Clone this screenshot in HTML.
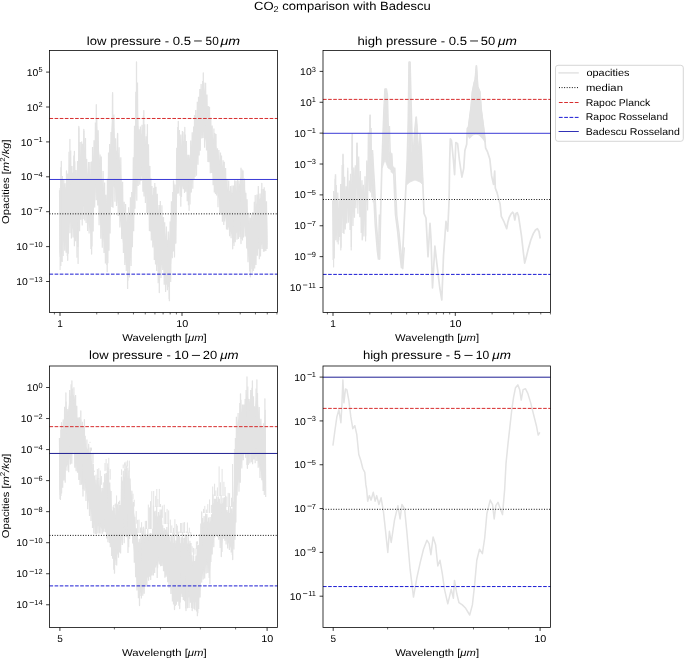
<!DOCTYPE html>
<html><head><meta charset="utf-8"><title>CO2 comparison with Badescu</title>
<style>
html,body{margin:0;padding:0;background:#fff;width:685px;height:659px;overflow:hidden;}
svg{display:block;}
text{font-family:"Liberation Sans",sans-serif;text-rendering:geometricPrecision;}
</style></head><body>
<svg width="685" height="659" viewBox="0 0 685 659">
<defs><filter id="nolcd" filterUnits="userSpaceOnUse" x="0" y="0" width="685" height="659"><feOffset dx="0" dy="0"/></filter></defs>
<rect width="685" height="659" fill="#fff"/>
<g id="data">
<polygon points="59.5,202.2 60.0,190.5 60.5,182.7 61.0,180.9 61.5,181.0 62.0,184.3 62.5,187.4 63.0,190.5 63.5,193.6 64.0,192.0 64.5,190.4 65.0,188.9 65.5,187.4 66.0,187.1 66.5,186.8 67.0,189.8 67.5,192.8 68.0,183.4 68.5,173.6 69.0,165.7 69.5,160.8 70.0,158.0 70.5,162.2 71.0,166.3 71.5,168.7 72.0,171.2 72.5,173.6 73.0,172.4 73.5,171.1 74.0,169.8 74.5,169.3 75.0,171.6 75.5,174.0 76.0,176.7 76.5,174.4 77.0,172.1 77.5,169.9 78.0,162.9 78.5,154.5 79.0,150.4 79.5,153.5 80.0,156.6 80.5,160.4 81.0,158.8 81.5,157.2 82.0,155.5 82.5,152.9 83.0,150.4 83.5,147.8 84.0,146.9 84.5,148.7 85.0,150.4 85.5,152.7 86.0,156.5 86.5,162.0 87.0,167.5 87.5,173.0 88.0,173.9 88.5,174.8 89.0,175.7 89.5,176.6 90.0,176.4 90.5,174.8 91.0,173.1 91.5,171.2 92.0,167.7 92.5,163.9 93.0,160.3 93.5,156.8 94.0,153.4 94.5,150.1 95.0,141.0 95.5,131.9 96.0,125.7 96.5,123.0 97.0,126.5 97.5,131.2 98.0,137.3 98.5,143.4 99.0,149.4 99.5,155.2 100.0,161.1 100.5,166.2 101.0,169.8 101.5,173.4 102.0,177.1 102.5,180.7 103.0,184.1 103.5,187.4 104.0,190.7 104.5,195.1 105.0,201.3 105.5,207.5 106.0,204.1 106.5,200.8 107.0,193.6 107.5,184.5 108.0,174.9 108.5,168.1 109.0,163.3 109.5,158.3 110.0,153.1 110.5,148.0 111.0,138.5 111.5,129.1 112.0,122.1 112.5,115.2 113.0,116.1 113.5,118.9 114.0,126.6 114.5,134.2 115.0,140.8 115.5,145.7 116.0,151.4 116.5,150.5 117.0,149.7 117.5,148.8 118.0,150.8 118.5,153.4 119.0,156.0 119.5,158.5 120.0,160.9 120.5,166.0 121.0,172.8 121.5,179.6 122.0,185.8 122.5,192.0 123.0,199.2 123.5,206.6 124.0,209.0 124.5,211.4 125.0,213.8 125.5,216.2 126.0,218.6 126.5,221.0 127.0,223.4 127.5,222.6 128.0,221.0 128.5,219.1 129.0,217.3 129.5,215.4 130.0,213.5 130.5,209.8 131.0,206.0 131.5,201.7 132.0,197.1 132.5,192.5 133.0,178.8 133.5,165.4 134.0,154.6 134.5,143.4 135.0,132.0 135.5,120.7 136.0,104.2 136.5,87.7 137.0,94.5 137.5,101.3 138.0,113.0 138.5,124.9 139.0,132.6 139.5,140.2 140.0,138.3 140.5,136.4 141.0,135.2 141.5,133.9 142.0,132.2 142.5,130.5 143.0,128.7 143.5,127.0 144.0,127.9 144.5,132.6 145.0,137.3 145.5,142.0 146.0,141.7 146.5,141.4 147.0,141.2 147.5,142.6 148.0,149.8 148.5,156.9 149.0,164.1 149.5,170.9 150.0,177.7 150.5,184.6 151.0,189.6 151.5,191.8 152.0,194.0 152.5,194.7 153.0,195.4 153.5,196.1 154.0,196.9 154.5,197.6 155.0,198.3 155.5,199.8 156.0,201.2 156.5,202.7 157.0,204.2 157.5,205.6 158.0,207.1 158.5,209.7 159.0,212.2 159.5,214.4 160.0,215.9 160.5,216.1 161.0,216.3 161.5,216.5 162.0,216.6 162.5,217.0 163.0,218.5 163.5,221.9 164.0,225.4 164.5,228.8 165.0,232.3 165.5,235.1 166.0,238.0 166.5,238.6 167.0,239.3 167.5,239.9 168.0,240.5 168.5,241.2 169.0,241.8 169.5,236.3 170.0,229.8 170.5,223.2 171.0,216.6 171.5,210.0 172.0,203.5 172.5,199.8 173.0,197.3 173.5,194.9 174.0,194.9 174.5,194.9 175.0,194.9 175.5,194.9 176.0,187.0 176.5,156.2 177.0,149.0 177.5,141.9 178.0,136.7 178.5,135.3 179.0,137.3 179.5,139.3 180.0,141.4 180.5,144.3 181.0,146.2 181.5,145.0 182.0,143.8 182.5,142.6 183.0,141.8 183.5,141.0 184.0,140.4 184.5,140.1 185.0,141.3 185.5,144.5 186.0,147.8 186.5,151.1 187.0,155.0 187.5,158.8 188.0,160.8 188.5,159.9 189.0,159.0 189.5,157.4 190.0,155.2 190.5,152.2 191.0,149.3 191.5,146.3 192.0,143.0 192.5,139.3 193.0,135.6 193.5,132.0 194.0,129.5 194.5,127.0 195.0,124.5 195.5,122.0 196.0,119.6 196.5,117.5 197.0,115.3 197.5,112.9 198.0,109.7 198.5,106.0 199.0,102.3 199.5,99.7 200.0,97.4 200.5,95.0 201.0,92.7 201.5,90.5 202.0,88.3 202.5,86.9 203.0,86.0 203.5,86.3 204.0,87.9 204.5,89.7 205.0,91.7 205.5,94.3 206.0,98.0 206.5,101.7 207.0,105.2 207.5,108.2 208.0,110.3 208.5,112.3 209.0,114.4 209.5,116.5 210.0,119.2 210.5,122.4 211.0,125.7 211.5,128.9 212.0,132.1 212.5,135.5 213.0,137.3 213.5,138.5 214.0,139.6 214.5,140.8 215.0,142.0 215.5,143.1 216.0,145.4 216.5,147.9 217.0,150.5 217.5,153.0 218.0,155.5 218.5,158.0 219.0,159.2 219.5,160.1 220.0,160.9 220.5,161.7 221.0,162.4 221.5,163.1 222.0,163.9 222.5,165.5 223.0,167.1 223.5,168.7 224.0,170.3 224.5,171.9 225.0,173.5 225.5,175.0 226.0,178.3 226.5,181.9 227.0,185.6 227.5,189.2 228.0,189.6 228.5,190.0 229.0,190.4 229.5,190.8 230.0,191.3 230.5,191.7 231.0,192.1 231.5,192.5 232.0,192.9 232.5,193.0 233.0,192.9 233.5,192.8 234.0,192.6 234.5,192.4 235.0,192.2 235.5,192.0 236.0,191.8 236.5,190.6 237.0,189.4 237.5,188.1 238.0,186.9 238.5,185.7 239.0,184.5 239.5,183.8 240.0,183.1 240.5,182.5 241.0,181.8 241.5,181.6 242.0,181.4 242.5,181.2 243.0,181.1 243.5,182.9 244.0,184.7 244.5,187.0 245.0,189.6 245.5,193.5 246.0,197.4 246.5,201.3 247.0,205.7 247.5,210.0 248.0,214.3 248.5,218.6 249.0,222.9 249.5,226.3 250.0,225.8 250.5,225.1 251.0,224.0 251.5,222.8 252.0,221.6 252.5,220.4 253.0,219.2 253.5,217.9 254.0,214.9 254.5,211.9 255.0,208.9 255.5,205.9 256.0,204.5 256.5,203.4 257.0,202.2 257.5,201.1 258.0,200.0 258.5,199.6 259.0,199.1 259.5,198.7 260.0,198.3 260.5,197.9 261.0,197.4 261.5,197.0 262.0,196.9 262.5,197.3 263.0,197.8 263.5,198.2 264.0,198.6 264.5,199.0 265.0,199.5 265.5,202.4 266.0,205.3 266.5,208.2 267.0,211.1 267.5,237.0 267.5,248.8 267.0,243.4 266.5,243.0 266.0,242.7 265.5,242.4 265.0,242.0 264.5,242.4 264.0,242.8 263.5,243.2 263.0,243.6 262.5,244.0 262.0,244.4 261.5,245.0 261.0,245.7 260.5,246.3 260.0,247.0 259.5,247.7 259.0,248.4 258.5,249.1 258.0,249.8 257.5,250.8 257.0,251.7 256.5,252.6 256.0,253.5 255.5,254.5 255.0,255.9 254.5,257.4 254.0,258.8 253.5,260.2 253.0,261.2 252.5,262.2 252.0,263.0 251.5,263.8 251.0,264.6 250.5,265.4 250.0,263.7 249.5,261.5 249.0,258.4 248.5,255.1 248.0,251.8 247.5,248.5 247.0,245.0 246.5,241.4 246.0,238.0 245.5,234.5 245.0,231.0 244.5,227.8 244.0,226.1 243.5,226.4 243.0,226.8 242.5,227.6 242.0,228.4 241.5,229.2 241.0,230.0 240.5,229.8 240.0,229.5 239.5,229.2 239.0,229.0 238.5,229.8 238.0,230.5 237.5,231.3 237.0,232.1 236.5,232.9 236.0,233.7 235.5,234.1 235.0,234.6 234.5,235.0 234.0,235.4 233.5,235.9 233.0,236.3 232.5,236.2 232.0,235.2 231.5,234.1 231.0,233.0 230.5,231.9 230.0,230.9 229.5,229.8 229.0,228.7 228.5,227.7 228.0,226.6 227.5,225.5 227.0,223.7 226.5,221.9 226.0,220.1 225.5,218.3 225.0,216.9 224.5,215.6 224.0,214.2 223.5,212.8 223.0,211.4 222.5,210.0 222.0,208.6 221.5,207.4 221.0,206.2 220.5,205.0 220.0,203.4 219.5,201.7 219.0,200.0 218.5,198.1 218.0,196.0 217.5,193.9 217.0,191.8 216.5,189.7 216.0,187.6 215.5,185.5 215.0,183.7 214.5,181.9 214.0,180.1 213.5,178.3 213.0,176.5 212.5,173.6 212.0,170.3 211.5,167.8 211.0,165.2 210.5,162.8 210.0,160.4 209.5,158.2 209.0,156.1 208.5,153.9 208.0,151.8 207.5,149.7 207.0,147.4 206.5,145.0 206.0,142.5 205.5,140.1 205.0,137.9 204.5,135.8 204.0,133.8 203.5,131.9 203.0,130.2 202.5,130.1 202.0,132.1 201.5,134.2 201.0,136.4 200.5,138.5 200.0,140.7 199.5,142.9 199.0,146.2 198.5,149.8 198.0,153.4 197.5,156.9 197.0,160.2 196.5,163.0 196.0,165.2 195.5,167.4 195.0,169.3 194.5,171.1 194.0,172.8 193.5,174.6 193.0,177.0 192.5,180.0 192.0,183.0 191.5,185.8 191.0,188.7 190.5,191.5 190.0,194.3 189.5,197.0 189.0,198.8 188.5,197.7 188.0,196.6 187.5,194.9 187.0,192.7 186.5,190.6 186.0,188.5 185.5,186.8 185.0,185.1 184.5,183.9 184.0,183.0 183.5,184.1 183.0,185.7 182.5,187.3 182.0,189.0 181.5,190.7 181.0,192.4 180.5,191.4 180.0,188.8 179.5,186.4 179.0,184.0 178.5,181.6 178.0,180.0 177.5,185.0 177.0,199.4 176.5,213.8 176.0,232.7 175.5,244.1 175.0,244.1 174.5,244.1 174.0,244.1 173.5,244.1 173.0,244.7 172.5,245.2 172.0,251.4 171.5,258.2 171.0,265.0 170.5,271.9 170.0,278.7 169.5,285.5 169.0,287.4 168.5,286.9 168.0,286.3 167.5,285.8 167.0,285.2 166.5,284.7 166.0,284.1 165.5,283.1 165.0,282.0 164.5,278.1 164.0,274.2 163.5,270.2 163.0,266.3 162.5,262.8 162.0,263.9 161.5,266.1 161.0,268.2 160.5,270.4 160.0,272.6 159.5,274.5 159.0,273.6 158.5,270.8 158.0,268.0 157.5,265.4 157.0,262.9 156.5,260.4 156.0,257.8 155.5,255.3 155.0,252.7 154.5,250.0 154.0,247.3 153.5,244.7 153.0,242.0 152.5,239.3 152.0,236.7 151.5,233.7 151.0,230.7 150.5,226.9 150.0,222.6 149.5,218.3 149.0,214.0 148.5,209.7 148.0,205.3 147.5,201.0 147.0,197.9 146.5,195.6 146.0,193.6 145.5,191.6 145.0,188.5 144.5,185.4 144.0,182.3 143.5,180.1 143.0,179.2 142.5,178.2 142.0,177.3 141.5,176.4 141.0,175.4 140.5,174.3 140.0,176.3 139.5,178.3 139.0,178.2 138.5,178.1 138.0,177.0 137.5,177.2 137.0,178.4 136.5,179.7 136.0,187.0 135.5,194.5 135.0,200.9 134.5,207.3 134.0,213.7 133.5,220.0 133.0,228.0 132.5,236.8 132.0,243.6 131.5,250.4 131.0,255.7 130.5,258.7 130.0,261.7 129.5,264.2 129.0,266.8 128.5,269.3 128.0,271.9 127.5,273.4 127.0,270.8 126.5,267.6 126.0,264.3 125.5,261.0 125.0,257.8 124.5,254.5 124.0,251.2 123.5,248.0 123.0,243.7 122.5,239.5 122.0,235.5 121.5,231.5 121.0,227.3 120.5,223.2 120.0,219.4 119.5,216.2 119.0,213.0 118.5,209.5 118.0,205.5 117.5,201.7 117.0,198.5 116.5,195.3 116.0,192.1 115.5,188.3 115.0,188.1 114.5,187.6 114.0,186.9 113.5,186.1 113.0,187.6 112.5,189.6 112.0,193.3 111.5,197.0 111.0,204.1 110.5,212.0 110.0,218.9 109.5,225.8 109.0,231.9 108.5,237.4 108.0,243.3 107.5,249.9 107.0,253.9 106.5,253.8 106.0,252.8 105.5,251.8 105.0,248.8 104.5,245.7 104.0,243.0 103.5,240.3 103.0,237.6 102.5,234.8 102.0,232.1 101.5,229.3 101.0,226.5 100.5,223.7 100.0,220.6 99.5,214.3 99.0,207.9 98.5,201.6 98.0,195.1 97.5,188.7 97.0,182.6 96.5,182.2 96.0,186.7 95.5,192.0 95.0,197.9 94.5,203.8 94.0,208.5 93.5,213.6 93.0,219.4 92.5,225.2 92.0,231.0 91.5,235.4 91.0,233.8 90.5,232.1 90.0,230.4 89.5,228.4 89.0,226.1 88.5,223.8 88.0,221.6 87.5,219.1 87.0,215.6 86.5,212.1 86.0,208.6 85.5,205.4 85.0,205.1 84.5,205.4 84.0,205.7 83.5,206.6 83.0,207.9 82.5,209.2 82.0,210.8 81.5,212.2 81.0,213.6 80.5,215.0 80.0,217.2 79.5,222.5 79.0,227.8 78.5,234.7 78.0,240.9 77.5,240.5 77.0,238.9 76.5,237.4 76.0,235.9 75.5,233.3 75.0,232.2 74.5,231.0 74.0,230.5 73.5,230.1 73.0,229.7 72.5,229.0 72.0,227.5 71.5,225.9 71.0,224.3 70.5,222.3 70.0,220.4 69.5,223.1 69.0,228.5 68.5,234.5 68.0,240.9 67.5,245.3 67.0,244.1 66.5,243.0 66.0,242.5 65.5,242.1 65.0,241.9 64.5,241.7 64.0,241.6 63.5,241.8 63.0,242.6 62.5,243.5 62.0,244.3 61.5,245.1 61.0,246.5 60.5,248.3 60.0,251.4 59.5,255.4" fill="#e3e3e3"/>
<polyline points="59.5,190.3 60.2,257.0 60.9,167.2 61.7,261.5 62.4,175.9 63.2,256.1 63.8,179.0 64.7,250.8 65.1,183.2 66.1,252.7 66.9,174.2 67.3,255.9 67.7,173.5 68.3,253.7 69.0,151.7 69.9,233.2 70.7,150.6 71.4,238.5 72.0,166.0 73.0,237.6 73.8,155.4 74.4,246.3 74.8,161.3 75.5,241.3 76.1,169.9 77.0,257.7 77.5,161.0 78.2,247.1 78.9,127.4 79.6,231.3 80.2,142.1 80.8,219.8 81.7,141.6 82.2,225.4 82.7,143.7 83.2,219.2 83.9,130.7 84.7,220.5 85.5,138.0 86.1,223.0 86.7,159.1 87.6,231.0 88.5,161.9 89.1,233.4 89.9,162.1 90.9,249.1 91.4,161.6 92.0,246.4 92.5,147.0 93.2,231.5 94.0,140.2 94.7,207.5 95.4,122.4 96.3,200.2 96.8,117.9 97.7,205.6 98.2,130.2 99.1,225.2 100.1,154.5 100.8,238.8 101.3,156.4 102.3,247.8 103.1,171.0 104.0,253.0 104.6,182.4 105.4,263.6 105.9,194.8 106.8,264.9 107.4,178.8 107.9,263.3 108.5,152.4 109.0,250.7 109.6,143.9 110.1,233.5 111.0,131.9 111.8,206.9 112.5,94.4 113.0,207.8 113.9,114.6 114.9,201.7 115.6,138.2 116.5,206.1 117.5,134.3 118.2,215.9 119.1,147.2 119.9,227.6 120.8,157.3 121.7,238.9 122.6,181.8 123.4,252.9 124.2,201.8 124.8,265.1 125.6,204.0 126.3,270.9 127.2,214.9 127.9,280.8 128.6,207.3 129.5,277.6 130.4,197.2 131.1,265.9 131.7,191.9 132.4,247.2 133.3,157.2 133.7,231.3 134.5,125.8 135.0,208.7 135.8,91.7 136.8,200.7 137.5,82.6 138.2,186.1 139.1,129.2 139.8,184.7 140.4,126.6 141.1,181.1 142.0,124.8 142.9,191.7 143.4,115.4 144.0,196.6 144.7,124.2 145.4,203.1 146.2,136.3 146.9,213.0 147.4,133.7 147.8,213.2 148.5,144.3 149.4,230.9 149.9,166.1 150.3,231.4 150.9,177.9 151.3,240.5 152.0,186.0 152.8,247.5 153.7,187.8 154.3,260.1 154.8,182.9 155.5,264.5 156.0,186.8 156.6,270.9 157.3,193.8 158.2,283.2 159.0,205.1 159.5,281.2 160.3,201.0 161.0,278.0 161.9,205.3 162.7,269.9 163.5,216.9 164.2,284.8 164.7,222.3 165.6,292.1 166.4,226.4 167.4,290.2 168.3,231.5 169.2,298.9 170.1,221.5 170.7,281.9 171.4,201.3 172.3,258.3 172.7,192.1 173.2,251.6 173.7,182.8 174.5,257.5 175.0,184.4 175.9,243.5 176.7,147.8 177.4,193.8 177.8,127.1 178.5,193.5 179.4,130.1 180.1,195.7 180.8,134.5 181.5,197.1 182.4,131.1 183.3,189.3 184.0,131.8 184.5,193.0 185.2,134.4 185.7,191.7 186.4,140.9 187.2,201.2 187.9,154.7 188.4,205.2 189.0,154.7 190.0,204.4 190.7,140.6 191.3,192.5 192.2,132.3 192.8,188.8 193.6,126.5 194.1,179.1 194.5,115.1 195.1,176.9 195.7,110.0 196.5,175.8 197.3,101.8 198.0,164.8 198.5,96.8 199.2,155.4 199.8,89.1 200.3,150.7 201.1,84.1 201.8,138.6 202.6,80.9 203.1,137.9 204.0,82.5 204.6,147.8 205.6,82.8 206.5,150.5 207.0,94.5 207.9,161.9 208.3,105.9 209.0,162.2 209.5,106.7 210.3,173.2 210.8,117.4 211.7,172.9 212.2,125.5 213.1,185.2 213.9,128.6 214.3,192.6 214.8,133.0 215.5,194.0 216.0,134.1 216.5,195.5 217.5,148.3 218.0,207.2 218.9,150.1 219.8,213.0 220.5,152.5 221.1,214.9 221.5,155.6 222.4,221.7 223.1,160.2 223.8,225.1 224.3,161.8 224.7,221.5 225.6,167.9 226.5,229.4 227.1,179.1 227.8,229.8 228.7,180.5 229.6,236.3 230.5,185.9 231.1,238.3 232.0,185.6 232.9,243.2 233.5,185.6 234.0,245.9 234.7,180.3 235.3,242.2 236.1,180.7 237.0,239.8 237.6,180.0 238.4,239.1 239.0,180.4 239.8,237.3 240.6,177.6 241.1,239.1 241.9,169.3 242.5,240.5 243.1,170.5 243.5,237.6 244.5,178.5 245.2,236.4 245.9,192.8 246.7,248.5 247.1,199.3 248.0,262.2 248.9,212.7 249.6,271.6 250.3,217.8 250.8,269.3 251.4,214.4 252.2,272.7 252.8,212.1 253.5,270.9 254.3,201.8 254.7,268.6 255.2,195.0 256.0,265.0 256.9,194.5 257.4,255.8 258.3,185.9 259.3,259.2 260.0,193.4 260.5,256.5 261.5,189.1 262.1,249.0 263.0,188.9 263.5,251.7 264.2,187.2 264.6,251.4 265.1,190.7 265.9,251.1 266.5,201.2 267.1,248.9" fill="none" stroke="#e3e3e3" stroke-width="1.2" stroke-linejoin="bevel"/>
<path d="M61.3 161.3L61.3 207.4M66.5 171.0L66.5 210.5M69.9 139.5L69.9 183.7M74.4 151.4L74.4 195.0M78.8 126.5L78.8 183.3M83.8 129.5L83.8 171.4M96.3 104.7L96.3 148.0M112.6 92.7L112.6 145.5M117.6 133.5L117.6 171.3M136.5 61.9L136.5 126.5M143.8 110.6L143.8 149.3M147.4 124.6L147.4 166.0M173.5 181.0L173.5 215.7M178.3 121.5L178.3 154.0M184.8 127.5L184.8 158.8M203.3 72.8L203.3 104.8M241.0 168.2L241.0 202.1M261.8 183.3L261.8 216.9M67.7 260.3L67.7 221.3M78.1 263.4L78.1 207.5M91.6 254.0L91.6 208.3M107.2 271.7L107.2 227.0M127.6 288.4L127.6 252.2M159.3 292.5L159.3 249.3M169.4 300.7L169.4 266.1M180.8 206.2L180.8 173.2M189.1 210.3L189.1 182.0M232.7 248.8L232.7 218.2M241.0 243.6L241.0 209.7M250.4 276.8L250.4 248.6" stroke="#e3e3e3" stroke-width="1.3" fill="none" stroke-linecap="round"/>
<path d="M60.1 188V270M60.9 180V266M62.2 178V262" stroke="#e3e3e3" stroke-width="1.1" fill="none"/>
<polyline points="332.6,200.2 333.1,260.1 333.6,190.9 334.3,258.4 335.1,178.7 335.8,240.3 336.3,184.9 337.2,242.3 337.8,192.6 338.8,240.6 339.5,200.3 340.0,237.1 340.6,183.9 341.1,247.8 342.1,165.0 342.9,233.1 343.5,164.1 344.0,233.9 344.6,176.7 345.3,229.4 346.1,186.2 346.7,223.4 347.6,170.5 348.4,222.8 349.4,180.6 350.0,230.0 350.5,173.8 351.4,247.1 352.2,136.6 353.0,226.0 353.8,167.6 354.5,217.8 355.3,165.3 356.0,208.3 357.0,145.7 357.9,213.7 358.7,156.5 359.8,217.3 360.4,170.9 361.2,233.1 362.0,180.3 362.5,239.6 363.4,184.7 364.0,236.6 365.0,176.3 365.7,236.2 366.7,160.5 367.6,210.5 368.3,132.6 369.3,190.9 369.9,117.2 370.4,192.4 371.2,128.1 371.8,197.4 372.5,153.5 373.3,202.5 374.2,189.1" fill="none" stroke="#e3e3e3" stroke-width="1.2" stroke-linejoin="bevel"/>
<path d="M335.5 176.0L335.5 204.8M343.0 155.0L343.0 191.9M347.8 168.0L347.8 194.1M352.3 134.0L352.3 181.5M357.0 143.0L357.0 174.3M370.1 115.0L370.1 150.7M333.6 267.0L333.6 231.2M338.2 244.0L338.2 220.0M340.8 250.0L340.8 218.9M351.2 250.0L351.2 208.0M362.2 240.0L362.2 213.4M365.6 241.0L365.6 208.4" stroke="#e3e3e3" stroke-width="1.2" fill="none" stroke-linecap="round"/>
<polyline points="389.4,126.0 390.6,166.0 391.8,153.7 392.8,173.0 394.8,168.3 396.8,215.5 399.0,232.5 401.1,253.8 402.8,268.7 404.3,247.4" fill="none" stroke="#e3e3e3" stroke-width="1.5" stroke-linejoin="round"/>
<polyline points="371.2,150.0 372.3,170.0 373.1,182.6 375.2,225.0 377.3,250.6 378.4,259.1 379.4,214.5" fill="none" stroke="#e3e3e3" stroke-width="1.5" stroke-linejoin="round"/>
<polyline points="372.4,150.0 373.5,170.0 374.3,182.6 376.4,225.0 378.5,250.6 379.6,259.1 380.6,214.5 381.7,171.9 382.8,140.0 384.0,110.0 385.0,89.0 386.3,89.0 387.3,95.0 388.1,125.0 389.3,165.0 390.5,152.7 391.5,172.0 393.5,167.3 395.5,214.5 397.7,231.5 399.8,252.8 401.5,267.7 403.0,246.4 405.1,203.8 407.2,161.3 408.3,120.0 409.1,62.0 410.0,62.0 411.0,100.0 412.3,150.0 413.1,161.4 414.5,133.6 416.2,117.0 417.2,130.0 418.5,165.0 420.1,134.0 421.3,150.0 422.5,175.0 424.0,213.5 426.0,218.0 428.0,256.8 430.0,223.3 431.0,239.0 432.5,288.0 434.9,246.0 436.8,263.0 437.4,268.0 439.8,288.0 441.8,300.0 443.5,255.7 446.0,221.3 447.7,231.1 449.1,200.0 449.7,160.0 450.3,138.8 451.5,140.7 453.4,160.0 454.6,174.7 455.8,142.5 457.6,143.7 459.4,160.0 461.9,177.1 463.7,168.6 464.9,150.4 466.7,144.3 467.3,128.5 468.5,127.1 471.2,106.0 472.4,92.0 474.1,83.3 475.2,79.8 476.4,65.8 477.7,86.8 479.9,92.0 481.2,109.6 482.6,120.0 484.3,133.4 485.6,148.0 487.4,151.6 489.8,158.9 491.6,175.9 493.5,184.4 494.7,171.0 495.3,188.0 497.1,192.9 498.9,200.0 500.1,204.1 501.3,216.4 503.8,221.3 506.7,228.7 507.8,222.5 509.2,217.5 511.1,213.9 512.6,212.2 513.6,213.5 514.8,220.0 516.0,213.5 517.3,212.7 518.5,216.0 519.7,223.8 521.5,236.0 523.3,252.0 524.7,263.1 526.3,257.0 528.4,248.4 530.8,240.0 533.3,233.6 535.5,230.0 537.4,228.7 539.0,231.5 540.2,238.5" fill="none" stroke="#e3e3e3" stroke-width="1.7" stroke-linejoin="round"/>
<polygon points="467.3,134.0 468.5,127.1 471.2,106.0 472.4,92.0 474.1,83.3 475.2,79.8 476.4,65.8 477.7,86.8 479.9,92.0 481.2,109.6 482.6,120.0 484.3,133.4 485.2,142.0 482.5,138.0 479.5,135.0 476.0,134.0 472.5,135.0 469.5,138.0" fill="#e3e3e3" stroke="#e3e3e3" stroke-width="1.2" stroke-linejoin="round"/>
<polygon points="382.2,168.0 383.2,140.0 384.2,110.0 385.0,89.0 386.3,89.0 387.0,100.0 387.6,125.0 388.6,160.0 389.6,165.0 390.5,152.7 391.3,170.0 388.0,168.0 385.0,160.0" fill="#e3e3e3" stroke="#e3e3e3" stroke-width="0.8" stroke-linejoin="round"/>
<polygon points="406.5,185.0 407.4,161.0 408.6,140.0 409.1,62.0 410.0,62.0 410.6,110.0 411.5,150.0 413.0,158.0 414.8,135.0 416.2,117.0 417.4,135.0 418.6,158.0 419.4,145.0 420.1,134.0 421.0,150.0 422.3,172.0 423.0,185.0 420.0,182.0 415.0,180.0 410.0,182.0" fill="#e3e3e3" stroke="#e3e3e3" stroke-width="0.8" stroke-linejoin="round"/>
<line x1="335.5" x2="335.5" y1="174.2" y2="200" stroke="#e3e3e3" stroke-width="1.5"/>
<line x1="343" x2="343" y1="153.7" y2="190" stroke="#e3e3e3" stroke-width="1.5"/>
<line x1="352.3" x2="352.3" y1="133.2" y2="170" stroke="#e3e3e3" stroke-width="1.5"/>
<line x1="357" x2="357" y1="142.8" y2="170" stroke="#e3e3e3" stroke-width="1.5"/>
<line x1="370.1" x2="370.1" y1="114.8" y2="150" stroke="#e3e3e3" stroke-width="1.5"/>
<polygon points="59.4,446.2 59.9,445.9 60.4,445.5 60.9,440.0 61.4,434.5 61.9,434.6 62.4,432.9 62.9,430.4 63.4,427.7 63.9,424.0 64.4,420.4 64.9,416.7 65.4,411.4 65.9,406.2 66.4,407.6 66.9,409.1 67.4,410.5 67.9,412.0 68.4,408.2 68.9,404.4 69.4,400.7 69.9,396.9 70.4,396.0 70.9,395.2 71.4,394.4 71.9,393.5 72.4,393.8 72.9,394.0 73.4,394.7 73.9,395.5 74.4,396.3 74.9,399.2 75.4,402.8 75.9,406.3 76.4,411.2 76.9,416.1 77.4,421.0 77.9,425.8 78.4,427.1 78.9,427.7 79.4,426.3 79.9,424.9 80.4,423.5 80.9,423.0 81.4,426.3 81.9,429.5 82.4,432.7 82.9,435.1 83.4,433.2 83.9,431.8 84.4,430.8 84.9,436.3 85.4,441.8 85.9,446.3 86.4,447.1 86.9,447.9 87.4,448.7 87.9,449.5 88.4,450.3 88.9,451.1 89.4,451.9 89.9,453.0 90.4,455.5 90.9,457.9 91.4,460.3 91.9,462.7 92.4,466.5 92.9,470.7 93.4,474.8 93.9,478.8 94.4,480.9 94.9,482.6 95.4,484.4 95.9,486.1 96.4,486.4 96.9,486.4 97.4,486.5 97.9,486.5 98.4,486.5 98.9,486.5 99.4,486.5 99.9,486.6 100.4,488.0 100.9,489.7 101.4,491.5 101.9,493.2 102.4,495.0 102.9,496.7 103.4,493.7 103.9,489.5 104.4,485.3 104.9,481.1 105.4,480.1 105.9,479.9 106.4,479.6 106.9,479.4 107.4,479.2 107.9,479.2 108.4,481.0 108.9,483.3 109.4,485.6 109.9,487.9 110.4,490.1 110.9,496.7 111.4,504.2 111.9,511.8 112.4,513.8 112.9,514.3 113.4,514.8 113.9,515.3 114.4,515.8 114.9,515.9 115.4,514.9 115.9,513.8 116.4,512.7 116.9,512.3 117.4,512.1 117.9,511.9 118.4,511.7 118.9,511.5 119.4,511.3 119.9,511.1 120.4,510.9 120.9,503.0 121.4,490.1 121.9,481.9 122.4,481.0 122.9,480.0 123.4,479.0 123.9,478.0 124.4,477.2 124.9,476.4 125.4,476.4 125.9,476.6 126.4,476.9 126.9,477.1 127.4,477.9 127.9,478.8 128.4,479.9 128.9,481.0 129.4,482.2 129.9,483.4 130.4,484.8 130.9,488.6 131.4,492.9 131.9,497.2 132.4,501.8 132.9,505.3 133.4,508.6 133.9,511.8 134.4,515.0 134.9,518.5 135.4,523.6 135.9,529.2 136.4,534.8 136.9,539.9 137.4,541.2 137.9,541.7 138.4,542.1 138.9,542.5 139.4,542.9 139.9,542.9 140.4,542.7 140.9,542.5 141.4,542.4 141.9,539.5 142.4,538.6 142.9,538.4 143.4,538.2 143.9,538.0 144.4,537.8 144.9,537.6 145.4,537.4 145.9,537.2 146.4,537.1 146.9,536.9 147.4,536.8 147.9,536.6 148.4,536.5 148.9,536.3 149.4,536.2 149.9,536.0 150.4,535.9 150.9,535.7 151.4,535.6 151.9,535.4 152.4,535.3 152.9,535.2 153.4,520.2 153.9,516.3 154.4,516.2 154.9,516.1 155.4,516.2 155.9,516.3 156.4,516.5 156.9,516.6 157.4,516.6 157.9,516.3 158.4,516.0 158.9,515.7 159.4,515.4 159.9,515.3 160.4,515.2 160.9,515.0 161.4,515.3 161.9,515.6 162.4,527.4 162.9,530.6 163.4,531.0 163.9,531.3 164.4,531.5 164.9,531.7 165.4,531.8 165.9,532.0 166.4,532.1 166.9,532.3 167.4,532.4 167.9,532.6 168.4,532.8 168.9,533.0 169.4,536.3 169.9,540.4 170.4,541.4 170.9,541.7 171.4,541.9 171.9,542.2 172.4,542.5 172.9,542.7 173.4,543.0 173.9,543.3 174.4,543.6 174.9,543.5 175.4,543.3 175.9,543.1 176.4,543.0 176.9,542.8 177.4,542.6 177.9,542.6 178.4,542.9 178.9,543.1 179.4,543.3 179.9,543.4 180.4,543.3 180.9,543.1 181.4,543.0 181.9,542.8 182.4,542.7 182.9,542.5 183.4,542.7 183.9,542.9 184.4,543.1 184.9,543.3 185.4,543.5 185.9,543.7 186.4,543.7 186.9,543.7 187.4,543.6 187.9,543.6 188.4,543.5 188.9,543.5 189.4,543.5 189.9,543.6 190.4,543.6 190.9,549.8 191.4,557.5 191.9,559.8 192.4,560.9 192.9,561.8 193.4,562.8 193.9,563.8 194.4,564.3 194.9,562.5 195.4,560.9 195.9,559.3 196.4,557.8 196.9,556.3 197.4,554.8 197.9,551.3 198.4,547.9 198.9,544.5 199.4,541.1 199.9,537.4 200.4,533.6 200.9,529.7 201.4,525.8 201.9,523.5 202.4,523.2 202.9,522.9 203.4,522.5 203.9,522.3 204.4,522.1 204.9,521.9 205.4,521.7 205.9,521.5 206.4,521.3 206.9,521.2 207.4,521.5 207.9,521.7 208.4,522.0 208.9,522.2 209.4,522.5 209.9,522.7 210.4,521.6 210.9,520.4 211.4,519.2 211.9,518.7 212.4,518.3 212.9,507.1 213.4,503.1 213.9,502.7 214.4,502.4 214.9,502.1 215.4,501.8 215.9,501.5 216.4,501.5 216.9,501.7 217.4,501.8 217.9,502.0 218.4,502.1 218.9,502.3 219.4,502.5 219.9,503.0 220.4,503.4 220.9,503.9 221.4,504.1 221.9,503.7 222.4,503.2 222.9,502.8 223.4,502.4 223.9,502.4 224.4,502.5 224.9,502.5 225.4,502.6 225.9,507.3 226.4,512.0 226.9,512.1 227.4,512.3 227.9,512.4 228.4,512.6 228.9,512.7 229.4,512.9 229.9,513.1 230.4,513.2 230.9,513.4 231.4,513.6 231.9,513.8 232.4,513.9 232.9,513.9 233.4,500.5 233.9,483.9 234.4,467.2 234.9,457.7 235.4,449.1 235.9,440.4 236.4,431.0 236.9,426.6 237.4,423.6 237.9,421.2 238.4,418.9 238.9,416.1 239.4,413.3 239.9,410.5 240.4,407.6 240.9,408.6 241.4,410.5 241.9,412.4 242.4,414.4 242.9,412.8 243.4,411.3 243.9,409.7 244.4,408.1 244.9,404.7 245.4,401.3 245.9,397.9 246.4,394.5 246.9,391.0 247.4,393.3 247.9,396.5 248.4,399.8 248.9,403.0 249.4,402.1 249.9,400.2 250.4,398.2 250.9,397.0 251.4,395.8 251.9,394.6 252.4,393.5 252.9,398.6 253.4,403.7 253.9,408.9 254.4,414.0 254.9,409.9 255.4,405.8 255.9,401.6 256.4,397.5 256.9,393.4 257.4,398.3 257.9,403.3 258.4,408.3 258.9,413.3 259.4,417.7 259.9,419.6 260.4,421.6 260.9,423.6 261.4,425.5 261.9,427.7 262.4,429.8 262.9,431.9 263.4,432.4 263.9,426.1 264.4,419.8 264.9,413.6 265.4,424.5 265.9,435.3 265.9,486.9 265.4,484.7 264.9,482.4 264.4,483.2 263.9,484.0 263.4,484.8 262.9,482.7 262.4,479.9 261.9,477.1 261.4,474.3 260.9,472.4 260.4,470.6 259.9,468.8 259.4,467.0 258.9,464.8 258.4,462.5 257.9,460.2 257.4,457.9 256.9,456.3 256.4,456.6 255.9,456.8 255.4,457.1 254.9,457.4 254.4,457.6 253.9,456.2 253.4,454.8 252.9,453.4 252.4,452.1 251.9,451.8 251.4,451.5 250.9,451.3 250.4,451.0 249.9,452.2 249.4,453.3 248.9,454.3 248.4,454.6 247.9,454.8 247.4,455.1 246.9,452.9 246.4,451.7 245.9,450.6 245.4,449.4 244.9,448.2 244.4,447.1 243.9,450.2 243.4,453.3 242.9,456.4 242.4,459.5 241.9,462.0 241.4,464.5 240.9,467.0 240.4,469.6 239.9,473.0 239.4,476.3 238.9,479.6 238.4,482.7 237.9,484.5 237.4,486.2 236.9,491.5 236.4,499.2 235.9,513.1 235.4,523.2 234.9,532.4 234.4,537.1 233.9,541.9 233.4,546.6 232.9,550.8 232.4,551.0 231.9,550.0 231.4,549.0 230.9,548.0 230.4,547.0 229.9,546.0 229.4,545.0 228.9,544.2 228.4,543.3 227.9,542.5 227.4,541.6 226.9,540.8 226.4,540.0 225.9,538.9 225.4,537.8 224.9,537.5 224.4,537.2 223.9,536.9 223.4,536.6 222.9,539.2 222.4,541.7 221.9,544.2 221.4,546.8 220.9,545.3 220.4,542.7 219.9,540.2 219.4,537.7 218.9,536.1 218.4,535.3 217.9,534.4 217.4,533.6 216.9,532.7 216.4,531.9 215.9,532.1 215.4,533.7 214.9,535.4 214.4,537.1 213.9,538.9 213.4,541.0 212.9,543.7 212.4,547.8 211.9,549.9 211.4,552.9 210.9,559.5 210.4,566.2 209.9,572.8 209.4,571.3 208.9,569.9 208.4,568.5 207.9,567.1 207.4,565.6 206.9,564.2 206.4,564.8 205.9,565.9 205.4,567.0 204.9,568.1 204.4,569.2 203.9,570.3 203.4,571.7 202.9,573.5 202.4,575.3 201.9,577.1 201.4,580.0 200.9,584.3 200.4,588.7 199.9,593.0 199.4,596.9 198.9,598.9 198.4,600.9 197.9,602.9 197.4,604.9 196.9,604.2 196.4,603.4 195.9,602.7 195.4,601.9 194.9,602.0 194.4,602.3 193.9,602.3 193.4,602.1 192.9,601.9 192.4,601.7 191.9,601.4 191.4,600.7 190.9,599.1 190.4,597.7 189.9,597.5 189.4,597.2 188.9,597.1 188.4,597.4 187.9,597.7 187.4,598.0 186.9,598.2 186.4,598.5 185.9,598.5 185.4,597.4 184.9,596.2 184.4,595.1 183.9,593.9 183.4,592.8 182.9,591.7 182.4,592.5 181.9,593.3 181.4,594.2 180.9,595.0 180.4,595.9 179.9,596.7 179.4,596.2 178.9,594.9 178.4,593.5 177.9,592.2 177.4,592.3 176.9,593.2 176.4,594.2 175.9,595.2 175.4,596.1 174.9,597.1 174.4,597.6 173.9,596.0 173.4,594.4 172.9,592.9 172.4,591.3 171.9,589.7 171.4,588.2 170.9,586.8 170.4,585.3 169.9,583.8 169.4,581.7 168.9,579.7 168.4,578.3 167.9,577.3 167.4,576.4 166.9,575.6 166.4,574.7 165.9,573.9 165.4,573.0 164.9,572.1 164.4,571.3 163.9,569.9 163.4,568.1 162.9,566.3 162.4,564.0 161.9,560.2 161.4,558.4 160.9,557.1 160.4,557.9 159.9,558.7 159.4,559.4 158.9,560.9 158.4,562.6 157.9,564.3 157.4,566.0 156.9,566.2 156.4,565.3 155.9,564.5 155.4,563.6 154.9,563.4 154.4,563.9 153.9,564.5 153.4,565.7 152.9,569.0 152.4,569.5 151.9,570.2 151.4,571.0 150.9,571.9 150.4,572.7 149.9,573.6 149.4,574.4 148.9,575.3 148.4,576.1 147.9,576.9 147.4,577.8 146.9,578.6 146.4,579.4 145.9,580.3 145.4,581.3 144.9,582.4 144.4,583.6 143.9,584.7 143.4,585.8 142.9,587.0 142.4,588.1 141.9,589.2 141.4,590.7 140.9,591.7 140.4,592.7 139.9,593.7 139.4,594.0 138.9,591.6 138.4,589.1 137.9,586.7 137.4,584.3 136.9,581.7 136.4,578.4 135.9,572.6 135.4,566.7 134.9,560.9 134.4,555.4 133.9,550.9 133.4,546.6 132.9,542.4 132.4,538.1 131.9,535.6 131.4,534.4 130.9,533.2 130.4,532.2 129.9,532.5 129.4,534.3 128.9,536.1 128.4,538.0 127.9,538.7 127.4,535.1 126.9,532.3 126.4,532.6 125.9,532.8 125.4,533.0 124.9,533.3 124.4,533.7 123.9,534.2 123.4,535.4 122.9,536.7 122.4,538.0 121.9,539.3 121.4,541.8 120.9,545.2 120.4,547.7 119.9,548.8 119.4,549.9 118.9,551.0 118.4,552.1 117.9,553.2 117.4,554.4 116.9,555.8 116.4,557.3 115.9,558.9 115.4,560.4 114.9,562.0 114.4,562.7 113.9,560.5 113.4,558.4 112.9,556.3 112.4,554.1 111.9,551.2 111.4,547.3 110.9,543.4 110.4,539.7 109.9,538.0 109.4,536.2 108.9,534.5 108.4,532.8 107.9,531.1 107.4,529.8 106.9,529.1 106.4,528.9 105.9,528.6 105.4,528.4 104.9,528.3 104.4,528.7 103.9,529.2 103.4,529.7 102.9,530.0 102.4,529.4 101.9,528.9 101.4,528.3 100.9,527.7 100.4,527.2 99.9,526.7 99.4,526.4 98.9,526.2 98.4,526.1 97.9,526.0 97.4,525.9 96.9,525.9 96.4,525.8 95.9,525.6 95.4,525.3 94.9,524.9 94.4,524.5 93.9,524.0 93.4,522.3 92.9,519.9 92.4,517.5 91.9,515.2 91.4,513.1 90.9,511.0 90.4,508.9 89.9,506.8 89.4,505.0 88.9,503.2 88.4,501.4 87.9,499.6 87.4,497.7 86.9,495.6 86.4,493.5 85.9,491.4 85.4,488.6 84.9,485.7 84.4,482.7 83.9,480.9 83.4,481.6 82.9,485.0 82.4,483.1 81.9,481.0 81.4,478.9 80.9,476.9 80.4,475.5 79.9,474.3 79.4,473.0 78.9,471.8 78.4,470.2 77.9,468.5 77.4,466.4 76.9,464.3 76.4,462.2 75.9,460.1 75.4,458.2 74.9,456.3 74.4,454.6 73.9,453.2 73.4,451.8 72.9,450.4 72.4,451.5 71.9,452.5 71.4,453.7 70.9,455.0 70.4,456.2 69.9,457.4 69.4,459.2 68.9,460.9 68.4,462.7 67.9,464.4 67.4,465.2 66.9,466.1 66.4,467.1 65.9,468.0 65.4,470.2 64.9,472.4 64.4,474.3 63.9,476.1 63.4,478.0 62.9,479.7 62.4,481.4 61.9,482.9 61.4,484.2 60.9,486.6 60.4,489.9 59.9,489.8 59.4,489.7" fill="#e3e3e3"/>
<polyline points="59.4,437.9 60.2,495.0 61.1,428.2 61.6,493.6 62.2,428.8 62.7,487.7 63.2,419.5 63.9,480.5 64.6,406.8 65.2,482.8 66.1,401.4 67.0,470.7 67.8,408.9 68.7,472.3 69.6,389.9 70.4,464.6 71.1,384.3 71.8,463.7 72.3,388.6 73.1,453.7 73.9,387.3 74.8,467.7 75.6,395.0 76.1,471.3 76.8,405.7 77.5,472.8 78.1,417.5 78.8,480.1 79.4,417.2 80.0,485.0 80.8,419.5 81.4,484.8 82.4,421.7 82.9,489.3 83.7,426.0 84.2,490.8 85.2,435.7 86.0,500.9 86.9,439.6 87.7,509.3 88.7,443.8 89.5,516.0 90.3,447.6 91.0,521.1 91.9,453.2 92.5,528.1 93.3,463.7 93.8,533.6 94.6,475.4 95.3,534.0 96.0,479.3 96.5,534.2 97.4,478.3 98.0,533.6 98.8,478.1 99.5,533.5 100.3,479.4 101.0,533.7 101.9,487.9 102.6,533.7 103.2,488.1 103.9,531.8 104.7,473.8 105.5,532.3 106.1,473.1 106.7,538.6 107.3,469.3 107.9,542.2 108.6,470.9 109.4,543.0 109.8,482.6 110.3,547.3 111.1,491.1 111.7,556.1 112.2,510.5 112.6,558.7 113.2,506.6 113.8,569.8 114.3,507.5 115.0,565.1 115.9,504.2 116.7,565.6 117.5,504.3 118.5,557.8 118.9,503.0 119.5,552.5 120.0,505.1 120.6,553.6 121.5,476.6 122.3,545.1 123.3,470.8 124.2,543.2 125.0,468.9 125.8,536.7 126.3,465.4 127.0,537.5 127.8,467.5 128.7,547.3 129.2,470.4 129.6,538.9 130.1,478.6 131.0,535.4 131.9,490.7 132.7,543.4 133.5,501.9 134.3,562.8 134.9,516.7 135.6,577.3 136.5,528.3 136.9,590.5 137.4,533.4 138.4,598.2 139.3,538.8 139.9,595.9 140.8,534.8 141.4,598.5 142.3,531.3 142.8,595.7 143.5,528.7 144.2,593.8 145.1,528.6 145.6,586.8 146.2,534.1 146.9,584.9 147.8,528.7 148.6,580.7 149.3,534.2 149.7,576.8 150.2,532.9 150.7,579.9 151.4,533.4 152.0,575.4 152.7,528.7 153.4,575.4 154.1,511.4 154.7,572.9 155.2,510.7 155.8,567.5 156.7,506.3 157.6,568.2 158.5,512.0 159.3,564.4 160.1,509.4 160.6,566.3 161.5,509.4 161.9,565.9 162.7,525.2 163.5,571.3 164.2,528.0 164.9,577.8 165.5,529.4 166.2,576.7 166.8,527.1 167.7,582.2 168.4,523.2 169.0,588.1 169.9,536.5 170.9,594.1 171.5,535.4 172.4,601.5 172.9,532.5 173.5,604.5 174.5,532.9 175.4,605.9 176.0,540.6 176.4,604.7 176.9,532.1 177.6,601.7 178.1,532.0 178.9,605.8 179.4,535.9 180.3,602.4 181.2,537.2 182.0,597.1 182.5,532.1 183.3,600.1 184.0,538.1 184.5,601.3 185.2,534.5 185.8,608.4 186.5,535.9 187.4,608.2 188.2,532.3 189.0,608.0 189.9,540.8 190.5,602.7 191.0,543.0 191.5,607.9 192.0,555.3 192.7,608.6 193.6,555.5 194.2,609.1 194.6,560.9 195.0,610.3 195.9,555.5 196.6,611.5 197.1,545.3 197.8,613.3 198.3,545.1 198.7,609.1 199.6,534.1 200.1,597.5 200.8,523.5 201.7,582.6 202.5,518.0 203.2,579.6 204.1,516.0 204.7,578.5 205.6,513.5 206.2,573.5 206.9,513.9 207.8,573.0 208.6,517.6 209.2,578.0 210.1,517.1 210.9,562.1 211.6,514.3 212.2,554.6 212.8,504.2 213.8,547.3 214.4,498.8 215.0,537.6 215.6,498.7 216.2,535.8 216.7,496.3 217.5,537.2 218.3,496.6 218.7,539.7 219.4,498.7 220.2,548.0 221.1,495.3 222.0,552.0 223.0,497.8 223.7,538.8 224.4,497.2 224.8,540.7 225.6,495.7 226.1,544.5 227.0,510.0 227.7,548.5 228.6,506.5 229.4,550.0 230.4,506.3 231.2,552.5 231.7,508.6 232.3,554.9 233.2,501.8 233.9,549.6 234.5,453.6 235.0,539.7 235.4,438.0 235.9,522.6 236.4,416.8 237.1,495.4 238.1,412.9 239.0,491.7 239.8,403.0 240.3,482.8 240.9,399.8 241.8,468.4 242.5,404.6 243.3,460.2 243.8,404.6 244.4,454.3 245.1,399.0 245.5,457.8 246.1,390.0 247.0,465.0 247.8,386.4 248.3,465.1 249.1,398.9 249.8,463.5 250.7,390.1 251.3,462.2 252.0,387.8 252.6,464.3 253.5,396.3 253.9,459.6 254.4,406.2 255.2,463.2 256.1,388.5 256.8,460.9 257.5,393.0 258.2,467.7 259.2,406.9 260.0,478.0 260.9,418.7 261.8,480.3 262.6,427.7 263.1,490.9 263.5,423.2 264.3,495.1 265.2,409.8 265.7,497.0" fill="none" stroke="#e3e3e3" stroke-width="1.2" stroke-linejoin="bevel"/>
<path d="M61.5 422.7L61.5 455.0M65.9 392.9L65.9 432.7M71.9 380.9L71.9 418.8M80.8 410.8L80.8 445.6M84.4 419.7L84.4 453.1M108.0 468.0L108.0 501.6M116.5 503.0L116.5 531.6M125.0 464.0L125.0 500.7M142.0 528.0L142.0 560.2M153.5 506.0L153.5 537.2M201.7 512.0L201.7 546.8M213.0 495.0L213.0 520.2M240.5 393.8L240.5 433.6M247.0 376.9L247.0 417.3M252.4 380.9L252.4 418.6M256.9 379.9L256.9 420.4M264.9 398.8L264.9 443.1M60.4 499.4L60.4 470.9M83.0 496.0L83.0 463.6M114.5 573.2L114.5 542.9M128.0 552.4L128.0 513.5M139.5 605.5L139.5 572.4M157.2 577.4L157.2 545.3M174.5 609.5L174.5 574.6M179.7 608.5L179.7 574.1M186.0 610.5L186.0 575.2M192.2 610.5L192.2 584.0M197.4 615.7L197.4 583.4M209.9 583.5L209.9 551.3M221.3 556.5L221.3 528.8M232.7 559.6L232.7 535.5M247.4 468.3L247.4 428.6" stroke="#e3e3e3" stroke-width="1.3" fill="none" stroke-linecap="round"/>
<path d="M60.0 438V499M61.0 430V496" stroke="#e3e3e3" stroke-width="1.1" fill="none"/>
<path d="M90.0 441.8V443.0M91.5 447.6V450.7M93.1 452.9V463.2M94.2 470.6V472.0M96.0 474.7V479.0M97.3 469.0V479.0M98.8 468.2V479.0M100.3 470.5V480.0M101.4 476.1V484.8M103.3 482.4V488.2M105.0 463.0V471.1M106.1 459.0V470.3M107.7 463.4V469.2M108.8 457.8V472.6M110.2 469.1V479.7M113.8 505.0V506.6M115.2 503.6V506.7M116.6 495.4V504.0M118.5 501.8V504.0M119.6 500.6V504.0M121.6 469.3V475.3M123.2 464.5V468.3M124.7 462.4V465.6M126.0 461.6V465.7M127.6 460.4V466.7M129.3 460.6V471.6M133.0 493.7V499.3M134.2 499.7V506.5M136.2 511.1V523.8M137.7 519.8V533.0M139.0 519.6V533.0M140.5 527.5V533.0M141.6 522.2V531.9M143.6 526.7V529.0M145.3 520.9V529.0M146.5 520.8V529.0M148.3 504.6V529.0M149.4 507.4V529.0M150.5 501.2V529.0M151.8 491.2V529.0M153.7 491.0V507.0M155.7 495.9V507.0M156.8 489.0V507.0M157.9 499.0V507.0M159.3 488.9V507.0M160.5 504.0V507.0M162.3 505.5V517.9M164.2 504.7V524.0M165.6 512.2V524.0M167.1 508.9V524.0M168.7 510.4V524.0M170.3 519.6V533.0M171.8 525.4V533.0M173.5 527.9V533.0M174.9 519.2V533.0M176.4 524.0V533.0M177.4 525.6V533.0M179.0 531.4V533.0M180.6 523.0V533.0M181.7 523.0V533.0M183.2 522.5V533.0M184.6 522.1V533.0M186.3 531.4V533.0M187.4 522.5V533.0M189.3 527.7V533.0M190.8 532.0V537.6M192.1 546.3V552.4M193.4 547.9V555.5M195.0 548.4V554.6M196.4 541.5V549.0M197.5 541.3V544.5M203.5 508.9V513.0M204.8 505.9V513.0M206.4 509.5V513.0M207.8 504.1V513.0M209.6 499.4V513.0M211.4 504.9V513.0M212.7 486.5V506.7M214.6 483.7V496.0M215.8 490.5V496.0M217.4 487.4V496.0M219.1 466.4V496.0M220.4 482.3V496.0M222.1 468.9V496.0M223.9 481.8V496.0M225.1 486.9V496.0M226.8 496.6V507.0M228.2 492.9V507.0M229.6 493.2V507.0M231.5 497.7V507.0M232.6 464.0V507.0M234.4 449.0V452.8" stroke="#e3e3e3" stroke-width="1.0" fill="none"/>
<polyline points="332.9,445.6 334.9,430.7 336.9,416.7 338.9,409.8 340.9,422.7 341.9,404.8 342.9,379.9 343.9,402.8 345.5,388.9 346.9,389.9 348.9,400.8 350.8,416.7 352.8,428.7 354.8,425.7 356.8,434.6 358.8,454.5 360.8,460.5 362.8,468.5 364.8,472.4 365.8,484.4 366.6,488.9 367.7,501.2 369.3,495.6 371.1,500.1 373.3,492.3 375.1,501.2 376.7,495.6 378.9,504.5 381.1,497.8 383.4,511.2 385.6,531.3 387.8,552.5 389.4,531.3 391.2,542.5 394.5,520.2 397.9,505.7 400.1,519.0 401.9,504.5 404.6,509.0 406.8,531.3 410.1,569.2 413.5,597.1 416.8,578.2 420.2,562.6 423.5,549.2 426.9,540.2 429.1,543.6 430.9,554.7 433.1,536.9 435.6,544.7 437.8,565.9 440.0,560.3 442.3,573.7 444.5,589.3 447.8,603.8 451.2,589.3 453.4,598.2 454.5,580.4 456.8,593.8 459.0,602.7 462.3,604.9 465.7,608.3 469.7,615.0 472.4,604.9 474.6,584.8 476.8,560.3 479.5,549.2 482.4,553.6 484.7,538.0 486.9,513.5 490.2,500.1 492.5,504.5 494.2,519.0 495.8,505.7 498.0,502.3 500.3,509.0 502.5,514.6 504.7,488.9 506.0,463.6 507.9,444.6 509.8,427.6 511.7,410.5 513.6,397.2 515.5,387.7 517.8,384.9 519.7,389.6 521.2,400.1 523.1,389.6 525.4,388.7 527.8,393.4 530.7,402.9 533.5,414.3 536.4,425.7 538.2,435.1 539.8,432.3" fill="none" stroke="#e3e3e3" stroke-width="1.5" stroke-linejoin="round"/>
</g>
<g id="hlines">
<line x1="49.5" x2="277.5" y1="213.85" y2="213.85" stroke="#000" stroke-width="0.97" stroke-dasharray="0.97,1.6"/>
<line x1="49.5" x2="277.5" y1="118.47" y2="118.47" stroke="#d62728" stroke-width="0.97" stroke-dasharray="3.62,1.5"/>
<line x1="49.5" x2="277.5" y1="274.15" y2="274.15" stroke="#1414d2" stroke-width="0.97" stroke-dasharray="3.62,1.5"/>
<line x1="49.5" x2="277.5" y1="179.47" y2="179.47" stroke="#3434d4" stroke-width="0.97"/>
<line x1="323.0" x2="550.5" y1="199.5" y2="199.5" stroke="#000" stroke-width="0.97" stroke-dasharray="0.97,1.6"/>
<line x1="323.0" x2="550.5" y1="99.4" y2="99.4" stroke="#d62728" stroke-width="0.97" stroke-dasharray="3.62,1.5"/>
<line x1="323.0" x2="550.5" y1="274.4" y2="274.4" stroke="#1414d2" stroke-width="0.97" stroke-dasharray="3.62,1.5"/>
<line x1="323.0" x2="550.5" y1="133.3" y2="133.3" stroke="#3434d4" stroke-width="0.97"/>
<line x1="49.5" x2="277.5" y1="535.4" y2="535.4" stroke="#000" stroke-width="0.97" stroke-dasharray="0.97,1.6"/>
<line x1="49.5" x2="277.5" y1="426.65" y2="426.65" stroke="#d62728" stroke-width="0.97" stroke-dasharray="3.62,1.5"/>
<line x1="49.5" x2="277.5" y1="585.9" y2="585.9" stroke="#1414d2" stroke-width="0.97" stroke-dasharray="3.62,1.5"/>
<line x1="49.5" x2="277.5" y1="453.45" y2="453.45" stroke="#18188f" stroke-width="0.97"/>
<line x1="323.0" x2="550.5" y1="509.3" y2="509.3" stroke="#000" stroke-width="0.97" stroke-dasharray="0.97,1.6"/>
<line x1="323.0" x2="550.5" y1="408.4" y2="408.4" stroke="#d62728" stroke-width="0.97" stroke-dasharray="3.62,1.5"/>
<line x1="323.0" x2="550.5" y1="586.55" y2="586.55" stroke="#1414d2" stroke-width="0.97" stroke-dasharray="3.62,1.5"/>
<line x1="323.0" x2="550.5" y1="377.2" y2="377.2" stroke="#18188f" stroke-width="0.97"/>
</g>
<g id="spines" fill="none" stroke="#000" stroke-width="0.78">
<rect x="49.5" y="50.5" width="228.0" height="262.0"/>
<rect x="323.0" y="50.5" width="227.5" height="262.0"/>
<rect x="49.5" y="366.0" width="228.0" height="261.5"/>
<rect x="323.0" y="366.0" width="227.5" height="261.5"/>
</g>
<g id="ticks" stroke="#000"><line x1="60.00" x2="60.00" y1="312.5" y2="315.9" stroke-width="0.78"/><line x1="333.00" x2="333.00" y1="312.5" y2="315.9" stroke-width="0.78"/><line x1="182.00" x2="182.00" y1="312.5" y2="315.9" stroke-width="0.78"/><line x1="455.30" x2="455.30" y1="312.5" y2="315.9" stroke-width="0.78"/><line x1="54.42" x2="54.42" y1="312.5" y2="314.44" stroke-width="0.58"/><line x1="327.40" x2="327.40" y1="312.5" y2="314.44" stroke-width="0.58"/><line x1="96.73" x2="96.73" y1="312.5" y2="314.44" stroke-width="0.58"/><line x1="369.82" x2="369.82" y1="312.5" y2="314.44" stroke-width="0.58"/><line x1="118.21" x2="118.21" y1="312.5" y2="314.44" stroke-width="0.58"/><line x1="391.35" x2="391.35" y1="312.5" y2="314.44" stroke-width="0.58"/><line x1="133.45" x2="133.45" y1="312.5" y2="314.44" stroke-width="0.58"/><line x1="406.63" x2="406.63" y1="312.5" y2="314.44" stroke-width="0.58"/><line x1="145.27" x2="145.27" y1="312.5" y2="314.44" stroke-width="0.58"/><line x1="418.48" x2="418.48" y1="312.5" y2="314.44" stroke-width="0.58"/><line x1="154.93" x2="154.93" y1="312.5" y2="314.44" stroke-width="0.58"/><line x1="428.17" x2="428.17" y1="312.5" y2="314.44" stroke-width="0.58"/><line x1="163.10" x2="163.10" y1="312.5" y2="314.44" stroke-width="0.58"/><line x1="436.36" x2="436.36" y1="312.5" y2="314.44" stroke-width="0.58"/><line x1="170.18" x2="170.18" y1="312.5" y2="314.44" stroke-width="0.58"/><line x1="443.45" x2="443.45" y1="312.5" y2="314.44" stroke-width="0.58"/><line x1="176.42" x2="176.42" y1="312.5" y2="314.44" stroke-width="0.58"/><line x1="449.70" x2="449.70" y1="312.5" y2="314.44" stroke-width="0.58"/><line x1="218.73" x2="218.73" y1="312.5" y2="314.44" stroke-width="0.58"/><line x1="492.12" x2="492.12" y1="312.5" y2="314.44" stroke-width="0.58"/><line x1="240.21" x2="240.21" y1="312.5" y2="314.44" stroke-width="0.58"/><line x1="513.65" x2="513.65" y1="312.5" y2="314.44" stroke-width="0.58"/><line x1="255.45" x2="255.45" y1="312.5" y2="314.44" stroke-width="0.58"/><line x1="528.93" x2="528.93" y1="312.5" y2="314.44" stroke-width="0.58"/><line x1="267.27" x2="267.27" y1="312.5" y2="314.44" stroke-width="0.58"/><line x1="540.78" x2="540.78" y1="312.5" y2="314.44" stroke-width="0.58"/><line x1="276.93" x2="276.93" y1="312.5" y2="314.44" stroke-width="0.58"/><line x1="550.47" x2="550.47" y1="312.5" y2="314.44" stroke-width="0.58"/><line x1="59.90" x2="59.90" y1="627.5" y2="630.9" stroke-width="0.78"/><line x1="333.20" x2="333.20" y1="627.5" y2="630.9" stroke-width="0.78"/><line x1="267.10" x2="267.10" y1="627.5" y2="630.9" stroke-width="0.78"/><line x1="540.10" x2="540.10" y1="627.5" y2="630.9" stroke-width="0.78"/><line x1="114.40" x2="114.40" y1="627.5" y2="629.44" stroke-width="0.58"/><line x1="387.62" x2="387.62" y1="627.5" y2="629.44" stroke-width="0.58"/><line x1="160.48" x2="160.48" y1="627.5" y2="629.44" stroke-width="0.58"/><line x1="433.63" x2="433.63" y1="627.5" y2="629.44" stroke-width="0.58"/><line x1="200.40" x2="200.40" y1="627.5" y2="629.44" stroke-width="0.58"/><line x1="473.49" x2="473.49" y1="627.5" y2="629.44" stroke-width="0.58"/><line x1="235.60" x2="235.60" y1="627.5" y2="629.44" stroke-width="0.58"/><line x1="508.65" x2="508.65" y1="627.5" y2="629.44" stroke-width="0.58"/><line x1="46.1" x2="49.5" y1="72.10" y2="72.10" stroke-width="0.78"/><line x1="46.1" x2="49.5" y1="107.00" y2="107.00" stroke-width="0.78"/><line x1="46.1" x2="49.5" y1="141.90" y2="141.90" stroke-width="0.78"/><line x1="46.1" x2="49.5" y1="176.80" y2="176.80" stroke-width="0.78"/><line x1="46.1" x2="49.5" y1="211.70" y2="211.70" stroke-width="0.78"/><line x1="46.1" x2="49.5" y1="246.60" y2="246.60" stroke-width="0.78"/><line x1="46.1" x2="49.5" y1="281.50" y2="281.50" stroke-width="0.78"/><line x1="319.6" x2="323.0" y1="71.40" y2="71.40" stroke-width="0.78"/><line x1="319.6" x2="323.0" y1="102.27" y2="102.27" stroke-width="0.78"/><line x1="319.6" x2="323.0" y1="133.14" y2="133.14" stroke-width="0.78"/><line x1="319.6" x2="323.0" y1="164.02" y2="164.02" stroke-width="0.78"/><line x1="319.6" x2="323.0" y1="194.89" y2="194.89" stroke-width="0.78"/><line x1="319.6" x2="323.0" y1="225.76" y2="225.76" stroke-width="0.78"/><line x1="319.6" x2="323.0" y1="256.63" y2="256.63" stroke-width="0.78"/><line x1="319.6" x2="323.0" y1="287.50" y2="287.50" stroke-width="0.78"/><line x1="46.1" x2="49.5" y1="387.50" y2="387.50" stroke-width="0.78"/><line x1="46.1" x2="49.5" y1="418.54" y2="418.54" stroke-width="0.78"/><line x1="46.1" x2="49.5" y1="449.58" y2="449.58" stroke-width="0.78"/><line x1="46.1" x2="49.5" y1="480.62" y2="480.62" stroke-width="0.78"/><line x1="46.1" x2="49.5" y1="511.66" y2="511.66" stroke-width="0.78"/><line x1="46.1" x2="49.5" y1="542.70" y2="542.70" stroke-width="0.78"/><line x1="46.1" x2="49.5" y1="573.74" y2="573.74" stroke-width="0.78"/><line x1="46.1" x2="49.5" y1="604.78" y2="604.78" stroke-width="0.78"/><line x1="319.6" x2="323.0" y1="377.10" y2="377.10" stroke-width="0.78"/><line x1="319.6" x2="323.0" y1="420.92" y2="420.92" stroke-width="0.78"/><line x1="319.6" x2="323.0" y1="464.74" y2="464.74" stroke-width="0.78"/><line x1="319.6" x2="323.0" y1="508.56" y2="508.56" stroke-width="0.78"/><line x1="319.6" x2="323.0" y1="552.38" y2="552.38" stroke-width="0.78"/><line x1="319.6" x2="323.0" y1="596.20" y2="596.20" stroke-width="0.78"/></g>
<rect x="555.5" y="65.3" width="127.8" height="76.0" rx="2.5" ry="2.5" fill="#fff" fill-opacity="0.8" stroke="#cccccc" stroke-width="0.8"/>
<line x1="558.4" x2="578.8" y1="72.9" y2="72.9" stroke="#e3e3e3" stroke-width="1.46"/>
<line x1="559.0" x2="578.8" y1="87.6" y2="87.6" stroke="#000" stroke-width="0.97" stroke-dasharray="0.97,1.6"/>
<line x1="558.9" x2="578.8" y1="102.5" y2="102.5" stroke="#d62728" stroke-width="0.97" stroke-dasharray="3.75,1.55"/>
<line x1="558.9" x2="578.8" y1="117.4" y2="117.4" stroke="#1414d2" stroke-width="0.97" stroke-dasharray="3.75,1.55"/>
<line x1="558.6" x2="578.8" y1="131.5" y2="131.5" stroke="#2a2ab4" stroke-width="0.97"/>
<g id="texts" fill="#000" filter="url(#nolcd)"><g id="ylabels"><text x="38.30" y="75.70" font-size="9.9" text-anchor="end" textLength="11.6" lengthAdjust="spacingAndGlyphs">10</text><text x="42.50" y="72.20" font-size="7.4" text-anchor="end">5</text><text x="38.30" y="110.60" font-size="9.9" text-anchor="end" textLength="11.6" lengthAdjust="spacingAndGlyphs">10</text><text x="42.50" y="107.10" font-size="7.4" text-anchor="end">2</text><rect x="34.10" y="139.10" width="4.3" height="0.62"/><text x="32.40" y="145.50" font-size="9.9" text-anchor="end" textLength="11.6" lengthAdjust="spacingAndGlyphs">10</text><text x="42.50" y="142.00" font-size="7.4" text-anchor="end">1</text><rect x="34.10" y="174.00" width="4.3" height="0.62"/><text x="32.40" y="180.40" font-size="9.9" text-anchor="end" textLength="11.6" lengthAdjust="spacingAndGlyphs">10</text><text x="42.50" y="176.90" font-size="7.4" text-anchor="end">4</text><rect x="34.10" y="208.90" width="4.3" height="0.62"/><text x="32.40" y="215.30" font-size="9.9" text-anchor="end" textLength="11.6" lengthAdjust="spacingAndGlyphs">10</text><text x="42.50" y="211.80" font-size="7.4" text-anchor="end">7</text><rect x="29.60" y="243.80" width="4.3" height="0.62"/><text x="27.90" y="250.20" font-size="9.9" text-anchor="end" textLength="11.6" lengthAdjust="spacingAndGlyphs">10</text><text x="42.50" y="246.70" font-size="7.4" text-anchor="end">10</text><rect x="29.60" y="278.69" width="4.3" height="0.62"/><text x="27.90" y="285.10" font-size="9.9" text-anchor="end" textLength="11.6" lengthAdjust="spacingAndGlyphs">10</text><text x="42.50" y="281.60" font-size="7.4" text-anchor="end">13</text><text x="311.70" y="75.00" font-size="9.9" text-anchor="end" textLength="11.6" lengthAdjust="spacingAndGlyphs">10</text><text x="315.90" y="71.50" font-size="7.4" text-anchor="end">3</text><text x="311.70" y="105.87" font-size="9.9" text-anchor="end" textLength="11.6" lengthAdjust="spacingAndGlyphs">10</text><text x="315.90" y="102.37" font-size="7.4" text-anchor="end">1</text><rect x="307.50" y="130.34" width="4.3" height="0.62"/><text x="305.80" y="136.74" font-size="9.9" text-anchor="end" textLength="11.6" lengthAdjust="spacingAndGlyphs">10</text><text x="315.90" y="133.24" font-size="7.4" text-anchor="end">1</text><rect x="307.50" y="161.22" width="4.3" height="0.62"/><text x="305.80" y="167.62" font-size="9.9" text-anchor="end" textLength="11.6" lengthAdjust="spacingAndGlyphs">10</text><text x="315.90" y="164.12" font-size="7.4" text-anchor="end">3</text><rect x="307.50" y="192.09" width="4.3" height="0.62"/><text x="305.80" y="198.49" font-size="9.9" text-anchor="end" textLength="11.6" lengthAdjust="spacingAndGlyphs">10</text><text x="315.90" y="194.99" font-size="7.4" text-anchor="end">5</text><rect x="307.50" y="222.96" width="4.3" height="0.62"/><text x="305.80" y="229.36" font-size="9.9" text-anchor="end" textLength="11.6" lengthAdjust="spacingAndGlyphs">10</text><text x="315.90" y="225.86" font-size="7.4" text-anchor="end">7</text><rect x="307.50" y="253.83" width="4.3" height="0.62"/><text x="305.80" y="260.23" font-size="9.9" text-anchor="end" textLength="11.6" lengthAdjust="spacingAndGlyphs">10</text><text x="315.90" y="256.73" font-size="7.4" text-anchor="end">9</text><rect x="303.00" y="284.70" width="4.3" height="0.62"/><text x="301.30" y="291.10" font-size="9.9" text-anchor="end" textLength="11.6" lengthAdjust="spacingAndGlyphs">10</text><text x="315.90" y="287.60" font-size="7.4" text-anchor="end">11</text><text x="38.30" y="391.10" font-size="9.9" text-anchor="end" textLength="11.6" lengthAdjust="spacingAndGlyphs">10</text><text x="42.50" y="387.60" font-size="7.4" text-anchor="end">0</text><rect x="34.10" y="415.74" width="4.3" height="0.62"/><text x="32.40" y="422.14" font-size="9.9" text-anchor="end" textLength="11.6" lengthAdjust="spacingAndGlyphs">10</text><text x="42.50" y="418.64" font-size="7.4" text-anchor="end">2</text><rect x="34.10" y="446.78" width="4.3" height="0.62"/><text x="32.40" y="453.18" font-size="9.9" text-anchor="end" textLength="11.6" lengthAdjust="spacingAndGlyphs">10</text><text x="42.50" y="449.68" font-size="7.4" text-anchor="end">4</text><rect x="34.10" y="477.82" width="4.3" height="0.62"/><text x="32.40" y="484.22" font-size="9.9" text-anchor="end" textLength="11.6" lengthAdjust="spacingAndGlyphs">10</text><text x="42.50" y="480.72" font-size="7.4" text-anchor="end">6</text><rect x="34.10" y="508.86" width="4.3" height="0.62"/><text x="32.40" y="515.26" font-size="9.9" text-anchor="end" textLength="11.6" lengthAdjust="spacingAndGlyphs">10</text><text x="42.50" y="511.76" font-size="7.4" text-anchor="end">8</text><rect x="29.60" y="539.90" width="4.3" height="0.62"/><text x="27.90" y="546.30" font-size="9.9" text-anchor="end" textLength="11.6" lengthAdjust="spacingAndGlyphs">10</text><text x="42.50" y="542.80" font-size="7.4" text-anchor="end">10</text><rect x="29.60" y="570.94" width="4.3" height="0.62"/><text x="27.90" y="577.34" font-size="9.9" text-anchor="end" textLength="11.6" lengthAdjust="spacingAndGlyphs">10</text><text x="42.50" y="573.84" font-size="7.4" text-anchor="end">12</text><rect x="29.60" y="601.98" width="4.3" height="0.62"/><text x="27.90" y="608.38" font-size="9.9" text-anchor="end" textLength="11.6" lengthAdjust="spacingAndGlyphs">10</text><text x="42.50" y="604.88" font-size="7.4" text-anchor="end">14</text><rect x="307.50" y="374.30" width="4.3" height="0.62"/><text x="305.80" y="380.70" font-size="9.9" text-anchor="end" textLength="11.6" lengthAdjust="spacingAndGlyphs">10</text><text x="315.90" y="377.20" font-size="7.4" text-anchor="end">1</text><rect x="307.50" y="418.12" width="4.3" height="0.62"/><text x="305.80" y="424.52" font-size="9.9" text-anchor="end" textLength="11.6" lengthAdjust="spacingAndGlyphs">10</text><text x="315.90" y="421.02" font-size="7.4" text-anchor="end">3</text><rect x="307.50" y="461.94" width="4.3" height="0.62"/><text x="305.80" y="468.34" font-size="9.9" text-anchor="end" textLength="11.6" lengthAdjust="spacingAndGlyphs">10</text><text x="315.90" y="464.84" font-size="7.4" text-anchor="end">5</text><rect x="307.50" y="505.76" width="4.3" height="0.62"/><text x="305.80" y="512.16" font-size="9.9" text-anchor="end" textLength="11.6" lengthAdjust="spacingAndGlyphs">10</text><text x="315.90" y="508.66" font-size="7.4" text-anchor="end">7</text><rect x="307.50" y="549.58" width="4.3" height="0.62"/><text x="305.80" y="555.98" font-size="9.9" text-anchor="end" textLength="11.6" lengthAdjust="spacingAndGlyphs">10</text><text x="315.90" y="552.48" font-size="7.4" text-anchor="end">9</text><rect x="303.00" y="593.40" width="4.3" height="0.62"/><text x="301.30" y="599.80" font-size="9.9" text-anchor="end" textLength="11.6" lengthAdjust="spacingAndGlyphs">10</text><text x="315.90" y="596.30" font-size="7.4" text-anchor="end">11</text></g><text id="x1_1" x="60.15" y="326.80" font-size="10" text-anchor="middle">1</text>
<text id="x1_10" x="182.15" y="326.80" font-size="10" textLength="12.00" lengthAdjust="spacingAndGlyphs" text-anchor="middle">10</text>
<text id="x2_1" x="333.15" y="326.80" font-size="10" text-anchor="middle">1</text>
<text id="x2_10" x="455.45" y="326.80" font-size="10" textLength="12.00" lengthAdjust="spacingAndGlyphs" text-anchor="middle">10</text>
<text id="x3_5" x="60.05" y="641.90" font-size="10" text-anchor="middle">5</text>
<text id="x3_10" x="267.25" y="641.90" font-size="10" textLength="12.00" lengthAdjust="spacingAndGlyphs" text-anchor="middle">10</text>
<text id="x4_5" x="333.35" y="641.90" font-size="10" text-anchor="middle">5</text>
<text id="x4_10" x="540.25" y="641.90" font-size="10" textLength="12.00" lengthAdjust="spacingAndGlyphs" text-anchor="middle">10</text>
<text id="xl1" x="122.29" y="341.00" font-size="9.9" textLength="84.44" lengthAdjust="spacingAndGlyphs">Wavelength [<tspan font-style="italic">μm</tspan>]</text>
<text id="xl2" x="395.08" y="340.60" font-size="9.9" textLength="83.95" lengthAdjust="spacingAndGlyphs">Wavelength [<tspan font-style="italic">μm</tspan>]</text>
<text id="xl3" x="121.98" y="655.70" font-size="9.9" textLength="84.72" lengthAdjust="spacingAndGlyphs">Wavelength [<tspan font-style="italic">μm</tspan>]</text>
<text id="xl4" x="395.17" y="655.80" font-size="9.9" textLength="83.88" lengthAdjust="spacingAndGlyphs">Wavelength [<tspan font-style="italic">μm</tspan>]</text>
<text id="yl1" transform="translate(8.9,223.9) rotate(-90)" x="0" y="0" font-size="9.9" textLength="84.5" lengthAdjust="spacingAndGlyphs">Opacities [<tspan font-style="italic">m</tspan><tspan font-size="7" dy="-3.5">2</tspan><tspan dy="3.5" font-style="italic">/kg</tspan>]</text>
<text id="yl3" transform="translate(8.9,538.2) rotate(-90)" x="0" y="0" font-size="9.9" textLength="84.5" lengthAdjust="spacingAndGlyphs">Opacities [<tspan font-style="italic">m</tspan><tspan font-size="7" dy="-3.5">2</tspan><tspan dy="3.5" font-style="italic">/kg</tspan>]</text>
<text id="t1a" x="86.83" y="44.50" font-size="11.9" textLength="104.21" lengthAdjust="spacingAndGlyphs">low pressure - 0.5</text>
<text id="t1b" x="205.60" y="44.50" font-size="11.9" textLength="13.10" lengthAdjust="spacingAndGlyphs">50</text>
<text id="t1c" x="220.40" y="44.50" font-size="11.9" textLength="19.60" lengthAdjust="spacingAndGlyphs" font-style="italic">μm</text>
<rect x="194.10" y="40.55" width="7.70" height="0.85"/>
<text id="t2a" x="357.50" y="44.50" font-size="11.9" textLength="109.52" lengthAdjust="spacingAndGlyphs">high pressure - 0.5</text>
<text id="t2b" x="480.72" y="44.50" font-size="11.9" textLength="14.44" lengthAdjust="spacingAndGlyphs">50</text>
<text id="t2c" x="497.97" y="44.50" font-size="11.9" textLength="18.87" lengthAdjust="spacingAndGlyphs" font-style="italic">μm</text>
<rect x="470.10" y="40.55" width="7.90" height="0.85"/>
<text id="t3a" x="89.13" y="358.90" font-size="11.9" textLength="99.71" lengthAdjust="spacingAndGlyphs">low pressure - 10</text>
<text id="t3b" x="202.83" y="358.90" font-size="11.9" textLength="14.39" lengthAdjust="spacingAndGlyphs">20</text>
<text id="t3c" x="220.25" y="358.90" font-size="11.9" textLength="18.30" lengthAdjust="spacingAndGlyphs" font-style="italic">μm</text>
<rect x="191.90" y="354.95" width="8.10" height="0.85"/>
<text id="t4a" x="362.93" y="358.90" font-size="11.9" textLength="98.16" lengthAdjust="spacingAndGlyphs">high pressure - 5</text>
<text id="t4b" x="475.80" y="358.90" font-size="11.9" textLength="13.44" lengthAdjust="spacingAndGlyphs">10</text>
<text id="t4c" x="492.26" y="358.90" font-size="11.9" textLength="18.62" lengthAdjust="spacingAndGlyphs" font-style="italic">μm</text>
<rect x="464.40" y="354.95" width="8.20" height="0.85"/>
<text id="sup" x="254.02" y="9.60" font-size="11.9" textLength="176.68" lengthAdjust="spacingAndGlyphs">CO<tspan font-size="8.4" dy="2.2">2</tspan><tspan dy="-2.2"> comparison with Badescu</tspan></text>
<text id="lg1" x="586.51" y="76.40" font-size="9.9" textLength="42.96" lengthAdjust="spacingAndGlyphs">opacities</text>
<text id="lg2" x="585.94" y="90.90" font-size="9.9" textLength="36.97" lengthAdjust="spacingAndGlyphs">median</text>
<text id="lg3" x="585.70" y="105.50" font-size="9.9" textLength="64.56" lengthAdjust="spacingAndGlyphs">Rapoc Planck</text>
<text id="lg4" x="585.86" y="120.20" font-size="9.9" textLength="82.09" lengthAdjust="spacingAndGlyphs">Rapoc Rosseland</text>
<text id="lg5" x="585.80" y="134.70" font-size="9.9" textLength="94.03" lengthAdjust="spacingAndGlyphs">Badescu Rosseland</text></g>
</svg>
</body></html>
